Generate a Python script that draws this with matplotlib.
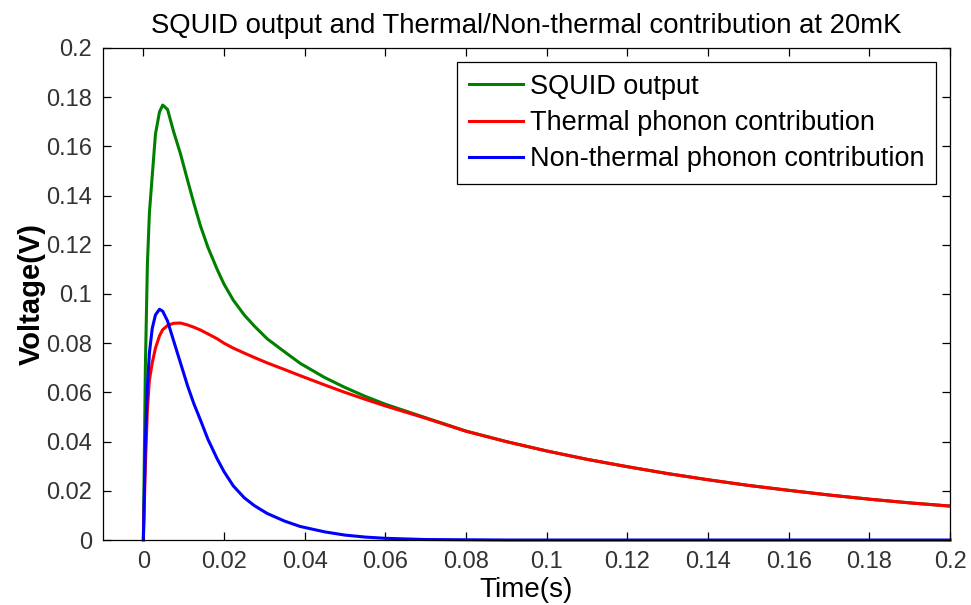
import numpy as np
import matplotlib
matplotlib.use('Agg')
import matplotlib.pyplot as plt

plt.rcParams['font.family'] = ['Liberation Sans', 'DejaVu Sans']

# time samples (s)
t = [0, 0.0005, 0.001, 0.0015, 0.0022, 0.003, 0.004, 0.0048, 0.006, 0.0075,
     0.0092, 0.011, 0.0125, 0.0141, 0.016, 0.0183, 0.02, 0.0223, 0.025, 0.0275,
     0.0307, 0.035, 0.0389, 0.045, 0.05, 0.055, 0.06, 0.07, 0.08, 0.09,
     0.1, 0.11, 0.12, 0.13, 0.14, 0.15, 0.16, 0.17, 0.18, 0.19, 0.2]

squid = [0, 0.070, 0.112, 0.133, 0.148, 0.165, 0.174, 0.1768, 0.175, 0.166,
         0.157, 0.146, 0.137, 0.128, 0.119, 0.110, 0.1040, 0.0975, 0.0915, 0.0870,
         0.0818, 0.0765, 0.0718, 0.0660, 0.0620, 0.0584, 0.0552, 0.0497, 0.0443, 0.0400,
         0.0362, 0.0328, 0.0298, 0.0270, 0.0245, 0.0222, 0.0202, 0.0183, 0.0166, 0.0151,
         0.0138]

thermal = [0, 0.030, 0.053, 0.065, 0.072, 0.078, 0.083, 0.0855, 0.0872, 0.0881,
           0.0882, 0.0874, 0.0865, 0.0854, 0.0838, 0.0818, 0.0800, 0.0780, 0.0760, 0.0742,
           0.0720, 0.0693, 0.0668, 0.0630, 0.0600, 0.0572, 0.0545, 0.0495, 0.0442, 0.0400,
           0.0362, 0.0328, 0.0298, 0.0270, 0.0245, 0.0222, 0.0202, 0.0183, 0.0166, 0.0151,
           0.0138]

nonthermal = [0, 0.040, 0.062, 0.076, 0.086, 0.0915, 0.0938, 0.0930, 0.0890, 0.0810,
              0.0720, 0.0625, 0.0555, 0.0490, 0.0410, 0.0330, 0.0278, 0.0220, 0.0172, 0.0140,
              0.0108, 0.0077, 0.0055, 0.0033, 0.0020, 0.0012, 0.0007, 0.0002, 0.0001, 0,
              0, 0, 0, 0, 0, 0, 0, 0, 0, 0,
              0]

xticks = [0, 0.02, 0.04, 0.06, 0.08, 0.1, 0.12, 0.14, 0.16, 0.18, 0.2]
xlabels = ['0', '0.02', '0.04', '0.06', '0.08', '0.1', '0.12', '0.14', '0.16', '0.18', '0.2']
yticks = [0, 0.02, 0.04, 0.06, 0.08, 0.1, 0.12, 0.14, 0.16, 0.18, 0.2]
ylabels = ['0', '0.02', '0.04', '0.06', '0.08', '0.1', '0.12', '0.14', '0.16', '0.18', '0.2']

fig = plt.figure(figsize=(9.71, 6.05), dpi=100)
ax = fig.add_axes([0.1061, 0.1074, 0.8723, 0.8133])

ax.plot(t, squid, color='#008000', lw=2.2, label='SQUID output')
ax.plot(t, thermal, color='#ff0000', lw=2.2, label='Thermal phonon contribution')
ax.plot(t, nonthermal, color='#0000ff', lw=2.2, label='Non-thermal phonon contribution',
        clip_on=False)

ax.set_xlim(-0.01, 0.2)
ax.set_ylim(0, 0.2)
ax.set_xticks(xticks)
ax.set_xticklabels(xlabels)
ax.set_yticks(yticks)
ax.set_yticklabels(ylabels)
ax.tick_params(direction='in', length=6, width=0.9, top=True, right=True,
               labelsize=17, labelcolor='#333333', pad=8)
for s in ax.spines.values():
    s.set_linewidth(0.9)

ax.set_title('SQUID output and Thermal/Non-thermal contribution at 20mK',
             fontsize=19.8, pad=11)
ax.set_xlabel('Time(s)', fontsize=20, labelpad=3)
ax.set_ylabel('Voltage(V)', fontsize=21, fontweight='bold', labelpad=0)

leg = ax.legend(loc='upper right', fontsize=19.5, frameon=True, fancybox=False,
                edgecolor='black', framealpha=1, handlelength=2.0,
                handletextpad=0.25, borderpad=0.45, labelspacing=0.38,
                borderaxespad=0.5)
leg.get_frame().set_linewidth(0.9)

fig.savefig('out.png', dpi=100)
